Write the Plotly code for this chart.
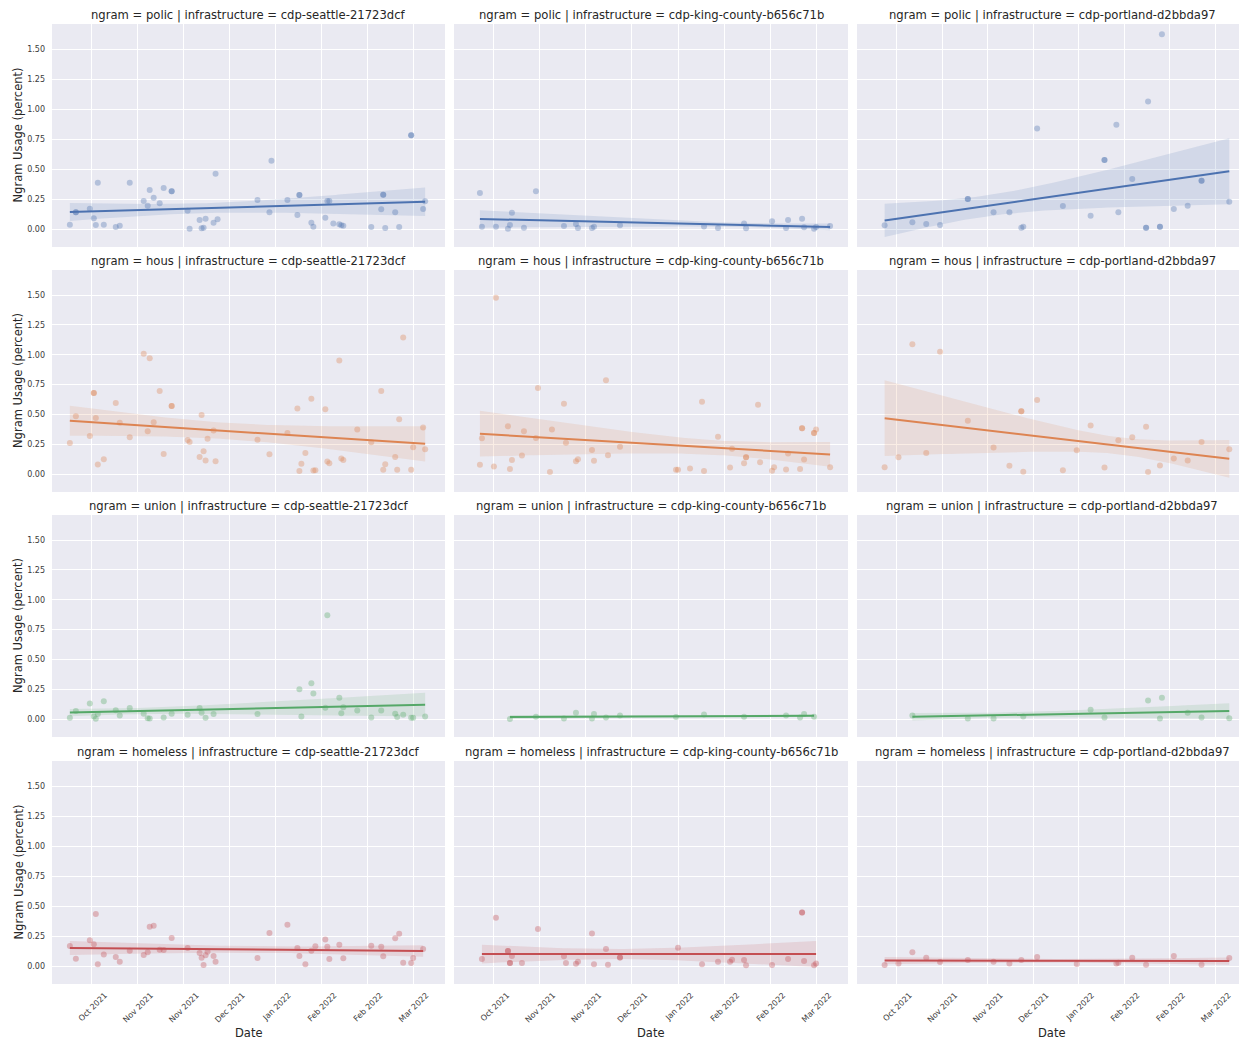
import numpy as np
import pandas as pd
import plotly.graph_objects as go

# ---------------- data ----------------
# one value per meeting date; None = ngram not found; a list = several rows on that date
NGRAMS = ["polic", "hous", "union", "homeless"]
INFRASTRUCTURES = ["cdp-seattle-21723dcf", "cdp-king-county-b656c71b", "cdp-portland-d2bbda97"]

SEATTLE_DATES = [
    "2021-09-28", "2021-10-01", "2021-10-08", "2021-10-10", "2021-10-11", "2021-10-12", "2021-10-15",
    "2021-10-21", "2021-10-23", "2021-10-28", "2021-11-04", "2021-11-06", "2021-11-07", "2021-11-09",
    "2021-11-12", "2021-11-14", "2021-11-18", "2021-11-26", "2021-11-27", "2021-12-02", "2021-12-03",
    "2021-12-04", "2021-12-05", "2021-12-06", "2021-12-09", "2021-12-10", "2021-12-11", "2021-12-31",
    "2022-01-06", "2022-01-07", "2022-01-15", "2022-01-20", "2022-01-21", "2022-01-22", "2022-01-24",
    "2022-01-27", "2022-01-28", "2022-01-29", "2022-02-03", "2022-02-04", "2022-02-05", "2022-02-07",
    "2022-02-10", "2022-02-11", "2022-02-12", "2022-02-19", "2022-02-26", "2022-03-03", "2022-03-04",
    "2022-03-05", "2022-03-10", "2022-03-11", "2022-03-12", "2022-03-14", "2022-03-18", "2022-03-19",
    "2022-03-24", "2022-03-25",
]
SEATTLE_POLIC = [
    0.036, [0.14, 0.14], 0.17, 0.09, 0.033, 0.386, 0.036, 0.017, 0.028, 0.386,
    0.233, 0.194, 0.325, 0.26, 0.214, 0.342, [0.314, 0.314], 0.153, 0.003, 0.075,
    0.006, 0.011, 0.086, None, 0.053, 0.461, 0.081, 0.242, 0.139, 0.569,
    0.242, 0.117, [0.283, 0.283], None, None, 0.053, 0.019, None, 0.094, 0.233,
    0.233, 0.047, 0.039, 0.031, 0.028, None, 0.017, 0.164, [0.286, 0.286], 0.008,
    0.139, None, 0.017, None, [0.783, 0.783], None, 0.167, 0.231,
]
SEATTLE_HOUS = [
    0.26, 0.485, 0.32, [0.68, 0.68], 0.47, 0.08, 0.125, 0.596, 0.43, 0.308,
    1.009, 0.36, 0.97, 0.435, 0.696, 0.169, [0.571, 0.571], 0.286, 0.269, 0.144,
    0.496, 0.191, 0.114, 0.297, 0.366, 0.108, None, 0.288, 0.166, None,
    0.344, 0.549, 0.025, 0.086, 0.177, 0.632, 0.03, 0.033, 0.543, 0.105,
    0.091, None, 0.951, 0.13, 0.119, 0.374, 0.266, 0.696, 0.036, 0.083,
    0.144, 0.036, 0.46, 1.145, 0.036, 0.225, 0.391, 0.208,
]
SEATTLE_UNION = [
    0.011, 0.067, 0.131, 0.022, 0.003, 0.042, 0.15, 0.075, 0.031, 0.092,
    0.045, 0.008, 0.006, None, None, 0.014, 0.045, 0.036, None, 0.092,
    0.053, None, 0.011, None, 0.042, None, None, 0.042, None, None,
    None, None, 0.25, 0.022, None, 0.3, 0.214, None, 0.095, 0.871,
    None, None, 0.178, 0.05, 0.1, 0.072, 0.014, 0.072, None, None,
    0.045, 0.017, None, 0.036, 0.011, 0.011, None, 0.022,
]
SEATTLE_HOMELESS = [
    0.167, 0.061, 0.214, 0.181, 0.433, 0.014, 0.097, 0.075, 0.036, 0.128,
    0.092, 0.114, 0.328, 0.336, 0.136, 0.133, 0.233, 0.15, None, 0.108,
    0.069, 0.008, 0.089, 0.119, 0.083, 0.036, None, 0.067, 0.275, None,
    0.344, 0.15, 0.083, None, 0.014, 0.128, None, 0.164, 0.222, 0.161,
    0.058, None, 0.178, None, 0.064, None, 0.169, 0.161, 0.081, None,
    0.231, None, 0.269, 0.028, 0.025, 0.067, 0.142, None,
]

KING_DATES = [
    "2021-10-02", "2021-10-03", "2021-10-09", "2021-10-10", "2021-10-16", "2021-10-17", "2021-10-18",
    "2021-10-23", "2021-10-24", "2021-10-30", "2021-10-31", "2021-11-06", "2021-11-07", "2021-11-13",
    "2021-11-14", "2021-11-19", "2021-11-20", "2021-11-27", "2021-11-28", "2021-12-04", "2021-12-05",
    "2021-12-11", "2022-01-08", "2022-01-09", "2022-01-15", "2022-01-21", "2022-01-22", "2022-01-29",
    "2022-02-04", "2022-02-05", "2022-02-11", "2022-02-12", "2022-02-18", "2022-02-19", "2022-02-25",
    "2022-02-26", "2022-03-04", "2022-03-05", "2022-03-11", "2022-03-12", "2022-03-13", "2022-03-18",
    "2022-03-19", "2022-03-26",
]
KING_POLIC = [
    0.30, 0.019, None, 0.019, 0.003, 0.033, 0.136, None, 0.011, 0.314,
    None, None, None, 0.025, None, 0.042, 0.008, 0.008, 0.019, None,
    None, 0.031, None, None, None, None, 0.022, 0.008, None, None,
    0.047, 0.006, None, None, 0.064, None, 0.008, 0.075, None, 0.086,
    0.014, 0.003, 0.017, 0.025,
]
KING_HOUS = [
    0.078, 0.30, 0.064, 1.478, 0.40, 0.042, 0.119, 0.155, 0.358, 0.302,
    0.721, 0.017, 0.374, 0.59, 0.263, 0.108, 0.125, 0.202, 0.111, 0.787,
    0.158, 0.23, 0.036, 0.036, 0.047, 0.607, 0.025, 0.313, 0.055, 0.213,
    0.091, [0.141, 0.141], 0.582, 0.10, 0.028, 0.058, 0.039, 0.172, 0.042, [0.385, 0.385],
    0.122, [0.344, 0.344], 0.374, 0.058,
]
KING_UNION = [
    None, None, None, None, None, 0.0, None, None, None, 0.019,
    None, None, None, 0.006, None, 0.053, None, 0.006, 0.042, 0.014,
    None, 0.031, 0.017, None, None, None, 0.039, None, None, None,
    0.019, None, None, None, None, None, 0.031, None, 0.014, None,
    0.042, 0.019, None, None,
]
KING_HOMELESS = [
    None, 0.058, None, 0.403, [0.125, 0.125], [0.025, 0.025], 0.083, 0.025, None, None,
    0.308, None, None, 0.081, 0.025, 0.019, 0.036, 0.272, 0.014, 0.142,
    0.011, [0.072, 0.072], None, 0.153, None, 0.014, None, 0.036, 0.036, 0.053,
    0.05, 0.006, None, None, 0.008, None, None, 0.058, None, [0.447, 0.447],
    0.042, 0.006, 0.022, None,
]

PORTLAND_DATES = [
    "2021-10-03", "2021-10-10", "2021-10-17", "2021-10-24", "2021-10-31", "2021-11-14", "2021-11-27",
    "2021-12-05", "2021-12-11", "2021-12-12", "2021-12-19", "2022-01-01", "2022-01-08", "2022-01-15",
    "2022-01-22", "2022-01-28", "2022-01-29", "2022-02-05", "2022-02-12", "2022-02-13", "2022-02-19",
    "2022-02-20", "2022-02-26", "2022-03-05", "2022-03-12", "2022-03-26",
]
PORTLAND_POLIC = [
    0.031, None, 0.056, 0.042, 0.033, [0.25, 0.25], 0.139, 0.139, 0.011, 0.019,
    0.839, 0.192, None, 0.111, [0.575, 0.575], 0.869, 0.139, 0.417, [0.011, 0.011], 1.064,
    [0.019, 0.019], 1.625, 0.167, 0.194, [0.403, 0.403], 0.228,
]
PORTLAND_HOUS = [
    0.058, 0.141, 1.087, 0.177, 1.026, 0.446, 0.222, 0.069, [0.527, 0.527], 0.019,
    0.621, 0.033, 0.20, 0.408, 0.055, None, 0.283, 0.308, 0.396, 0.017,
    0.072, None, 0.13, 0.114, 0.269, 0.208,
]
PORTLAND_UNION = [
    None, None, 0.031, None, None, 0.006, 0.006, None, None, 0.022,
    None, None, None, 0.078, 0.014, None, None, None, None, 0.156,
    0.006, 0.178, None, 0.053, 0.014, 0.008,
]
PORTLAND_HOMELESS = [
    0.008, 0.022, 0.114, 0.069, 0.033, 0.05, 0.036, 0.022, 0.05, None,
    0.075, None, 0.017, None, None, 0.022, 0.028, 0.069, 0.011, None,
    None, None, 0.083, None, 0.011, 0.067,
]

TICK_DATES = ["2021-10-09", "2021-11-01", "2021-11-24", "2021-12-17",
              "2022-01-09", "2022-02-01", "2022-02-24", "2022-03-19"]
Y_TICKS = [0.0, 0.25, 0.5, 0.75, 1.0, 1.25, 1.5]
X_TITLE = "Date"
Y_TITLE = "Ngram Usage (percent)"

DATES = {
    "cdp-seattle-21723dcf": SEATTLE_DATES,
    "cdp-king-county-b656c71b": KING_DATES,
    "cdp-portland-d2bbda97": PORTLAND_DATES,
}
VALUES = {
    ("polic", "cdp-seattle-21723dcf"): SEATTLE_POLIC,
    ("hous", "cdp-seattle-21723dcf"): SEATTLE_HOUS,
    ("union", "cdp-seattle-21723dcf"): SEATTLE_UNION,
    ("homeless", "cdp-seattle-21723dcf"): SEATTLE_HOMELESS,
    ("polic", "cdp-king-county-b656c71b"): KING_POLIC,
    ("hous", "cdp-king-county-b656c71b"): KING_HOUS,
    ("union", "cdp-king-county-b656c71b"): KING_UNION,
    ("homeless", "cdp-king-county-b656c71b"): KING_HOMELESS,
    ("polic", "cdp-portland-d2bbda97"): PORTLAND_POLIC,
    ("hous", "cdp-portland-d2bbda97"): PORTLAND_HOUS,
    ("union", "cdp-portland-d2bbda97"): PORTLAND_UNION,
    ("homeless", "cdp-portland-d2bbda97"): PORTLAND_HOMELESS,
}

# ---------------- style ----------------
COLORS = {"polic": (76, 114, 176), "hous": (221, 132, 82), "union": (85, 168, 104), "homeless": (196, 78, 82)}
FONT = "DejaVu Sans"
TEXT = "#262626"
OFF = 8  # page body margin of the html page
W, H = 1247 - OFF, 1041 - OFF
COL_PX = [(52, 445), (454, 848), (857, 1247)]   # screen pixels
ROW_PX = [(24, 247), (270, 492), (515, 737), (761, 984)]
Y_RANGE = [-0.15, 1.71]


def fx(px):
    return (px - OFF) / W


def fy(py):
    return (H - (py - OFF)) / H


def regression(days, y):
    """OLS line with a robust (pairs-bootstrap-like, HC1) 95% band."""
    n = len(days)
    xm = days.mean()
    X = np.column_stack([np.ones(n), days - xm])
    xtx_inv = np.linalg.inv(X.T @ X)
    beta = xtx_inv @ X.T @ y
    e = y - X @ beta
    meat = X.T @ (X * (e ** 2)[:, None])
    cov = xtx_inv @ meat @ xtx_inv * n / (n - 2)
    grid = np.linspace(days.min(), days.max(), 100)
    G = np.column_stack([np.ones(len(grid)), grid - xm])
    yhat = G @ beta
    se = np.sqrt(np.einsum("ij,jk,ik->i", G, cov, G))
    return grid, yhat, yhat - 1.96 * se, yhat + 1.96 * se


REF = pd.Timestamp("2021-01-01")
all_dates = pd.to_datetime(sum(DATES.values(), []))
dmin, dmax = all_dates.min(), all_dates.max()
pad = (dmax - dmin) * 0.05
X_RANGE = [(dmin - pad).isoformat(), (dmax + pad).isoformat()]

fig = go.Figure()
annotations = []
layout = {}

for r, ngram in enumerate(NGRAMS):
    for c, infra in enumerate(INFRASTRUCTURES):
        k = r * 3 + c + 1
        xs = "x" if k == 1 else f"x{k}"
        ys = "y" if k == 1 else f"y{k}"
        rgb = COLORS[ngram]
        col = "rgb(%d,%d,%d)" % rgb
        vals = VALUES[(ngram, infra)]
        dates = DATES[infra]
        pts = []
        for d, v in zip(dates, vals):
            if v is None:
                continue
            for vv in (v if isinstance(v, list) else [v]):
                pts.append((d, vv))
        px_dates = pd.to_datetime([p[0] for p in pts])
        yv = np.array([p[1] for p in pts], dtype=float)
        days = np.array((px_dates - REF).days, dtype=float)

        grid, yhat, lo, hi = regression(days, yv)
        gdates = REF + pd.to_timedelta(grid, unit="D")

        fig.add_trace(go.Scatter(
            x=list(gdates) + list(gdates[::-1]), y=list(hi) + list(lo[::-1]),
            fill="toself", fillcolor="rgba(%d,%d,%d,0.15)" % rgb, line=dict(width=0),
            mode="lines", hoverinfo="skip", showlegend=False, xaxis=xs, yaxis=ys))
        fig.add_trace(go.Scatter(
            x=px_dates, y=yv, mode="markers",
            marker=dict(color=col, size=6, opacity=0.35, line=dict(width=0)),
            showlegend=False, xaxis=xs, yaxis=ys))
        fig.add_trace(go.Scatter(
            x=gdates, y=yhat, mode="lines", line=dict(color=col, width=2),
            showlegend=False, xaxis=xs, yaxis=ys))

        x0, x1 = COL_PX[c]
        y0, y1 = ROW_PX[r]
        xname = "xaxis" if k == 1 else f"xaxis{k}"
        yname = "yaxis" if k == 1 else f"yaxis{k}"
        layout[xname] = dict(
            domain=[fx(x0), min(fx(x1), 1.0)], anchor=ys, type="date", range=X_RANGE,
            tickvals=TICK_DATES, tickformat="%b %Y", showticklabels=(r == 3),
            tickangle=-45, ticklabelshift=13, ticklabelstandoff=4,
            tickfont=dict(family=FONT, size=8, color="#3a3a3a"),
            showgrid=True, gridcolor="white", gridwidth=1.2, zeroline=False,
            showline=False, ticks="")
        layout[yname] = dict(
            domain=[fy(y1), fy(y0)], anchor=xs, range=Y_RANGE,
            tickvals=Y_TICKS, tickformat=".2f", showticklabels=(c == 0),
            ticklabelstandoff=6,
            tickfont=dict(family=FONT, size=8, color="#3a3a3a"),
            showgrid=True, gridcolor="white", gridwidth=1.2, zeroline=False,
            showline=False, ticks="")

        annotations.append(dict(
            text=f"ngram = {ngram} | infrastructure = {infra}",
            x=fx((x0 + x1) / 2), y=fy(y0 - 8.5), xref="paper", yref="paper",
            xanchor="center", yanchor="middle", showarrow=False,
            font=dict(family=FONT, size=11.6, color=TEXT)))
        if c == 0:
            annotations.append(dict(
                text=Y_TITLE, x=fx(18), y=fy((y0 + y1) / 2), xref="paper", yref="paper",
                xanchor="center", yanchor="middle", textangle=-90, showarrow=False,
                font=dict(family=FONT, size=11.5, color=TEXT)))
        if r == 3:
            annotations.append(dict(
                text=X_TITLE, x=fx((x0 + x1) / 2), y=fy(1033), xref="paper", yref="paper",
                xanchor="center", yanchor="middle", showarrow=False,
                font=dict(family=FONT, size=11.5, color=TEXT)))

fig.update_layout(
    width=W, height=H, margin=dict(l=0, r=0, t=0, b=0),
    paper_bgcolor="white", plot_bgcolor="#EAEAF2",
    font=dict(family=FONT, color=TEXT), showlegend=False,
    annotations=annotations, **layout)

fig.write_html("out.html")
